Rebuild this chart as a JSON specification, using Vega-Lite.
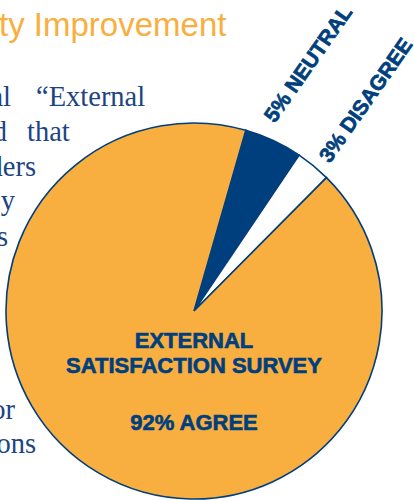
{
  "$schema": "https://vega.github.io/schema/vega-lite/v6.json",
  "width": 414,
  "height": 500,
  "autosize": "none",
  "padding": 0,
  "background": "white",
  "config": {"view": {"stroke": null}},
  "datasets": {
    "survey": [
      {"category": "Neutral", "percent": 5, "label": "5% NEUTRAL"},
      {"category": "Disagree", "percent": 3, "label": "3% DISAGREE"},
      {"category": "Agree", "percent": 92, "label": ""}
    ],
    "one": [{}]
  },
  "layer": [
    {
      "data": {"name": "survey"},
      "mark": {"type": "arc", "outerRadius": 188, "stroke": "#003f7d", "strokeWidth": 1.6},
      "encoding": {
        "x": {"datum": 194, "type": "quantitative", "scale": {"domain": [0, 414], "nice": false}, "axis": null},
        "y": {"datum": 311, "type": "quantitative", "scale": {"domain": [0, 500], "reverse": true, "nice": false}, "axis": null},
        "theta": {"field": "percent", "type": "quantitative", "stack": true, "scale": {"domain": [0, 100], "range": [0.2793, 6.5625], "nice": false}},
        "order": {"field": "category", "sort": "descending"},
        "color": {"field": "category", "type": "nominal", "scale": {"domain": ["Agree", "Neutral", "Disagree"], "range": ["#f9ae40", "#003f7d", "#ffffff"]}, "legend": null}
      }
    },
    {
      "data": {"name": "survey"},
      "mark": {"type": "text", "radius": 272, "angle": -55, "align": "center", "baseline": "middle", "font": "Liberation Sans", "fontWeight": "bold", "fontSize": 21, "fill": "#003f7d", "stroke": "#003f7d", "strokeWidth": 0.7},
      "encoding": {
        "x": {"datum": 194, "type": "quantitative", "scale": {"domain": [0, 414], "nice": false}, "axis": null},
        "y": {"datum": 311, "type": "quantitative", "scale": {"domain": [0, 500], "reverse": true, "nice": false}, "axis": null},
        "theta": {"field": "percent", "type": "quantitative", "stack": true, "scale": {"domain": [0, 100], "range": [0.2793, 6.5625], "nice": false}},
        "order": {"field": "category", "sort": "descending"},
        "text": {"field": "label"}
      }
    },
    {
      "data": {"name": "one"},
      "mark": {"type": "text", "align": "center", "baseline": "alphabetic", "font": "Liberation Sans", "fontWeight": "bold", "fontSize": 22, "fill": "#003f7d", "stroke": "#003f7d", "strokeWidth": 0.6, "lineHeight": 25},
      "encoding": {
        "x": {"datum": 194, "type": "quantitative", "scale": {"domain": [0, 414], "nice": false}, "axis": null},
        "y": {"datum": 348, "type": "quantitative", "scale": {"domain": [0, 500], "reverse": true, "nice": false}, "axis": null},
        "text": {"value": ["EXTERNAL", "SATISFACTION SURVEY"]}
      }
    },
    {
      "data": {"name": "one"},
      "mark": {"type": "text", "align": "center", "baseline": "alphabetic", "font": "Liberation Sans", "fontWeight": "bold", "fontSize": 22, "fill": "#003f7d", "stroke": "#003f7d", "strokeWidth": 0.6},
      "encoding": {
        "x": {"datum": 194, "type": "quantitative", "scale": {"domain": [0, 414], "nice": false}, "axis": null},
        "y": {"datum": 430, "type": "quantitative", "scale": {"domain": [0, 500], "reverse": true, "nice": false}, "axis": null},
        "text": {"value": "92% AGREE"}
      }
    },
    {
      "data": {"name": "one"},
      "mark": {"type": "text", "align": "left", "baseline": "alphabetic", "font": "Liberation Sans", "fontSize": 33, "fill": "#f9ae40"},
      "encoding": {
        "x": {"datum": -1, "type": "quantitative", "scale": {"domain": [0, 414], "nice": false}, "axis": null},
        "y": {"datum": 36, "type": "quantitative", "scale": {"domain": [0, 500], "reverse": true, "nice": false}, "axis": null},
        "text": {"value": "ty Improvement"}
      }
    },
    {
      "data": {"name": "one"},
      "mark": {"type": "text", "align": "right", "baseline": "alphabetic", "font": "Liberation Serif", "fontSize": 28.5, "fill": "#1d4483"},
      "encoding": {
        "x": {"datum": 11, "type": "quantitative", "scale": {"domain": [0, 414], "nice": false}, "axis": null},
        "y": {"datum": 106, "type": "quantitative", "scale": {"domain": [0, 500], "reverse": true, "nice": false}, "axis": null},
        "text": {"value": "al"}
      }
    },
    {
      "data": {"name": "one"},
      "mark": {"type": "text", "align": "left", "baseline": "alphabetic", "font": "Liberation Serif", "fontSize": 28.5, "fill": "#1d4483"},
      "encoding": {
        "x": {"datum": 36, "type": "quantitative", "scale": {"domain": [0, 414], "nice": false}, "axis": null},
        "y": {"datum": 106, "type": "quantitative", "scale": {"domain": [0, 500], "reverse": true, "nice": false}, "axis": null},
        "text": {"value": "“External"}
      }
    },
    {
      "data": {"name": "one"},
      "mark": {"type": "text", "align": "right", "baseline": "alphabetic", "font": "Liberation Serif", "fontSize": 28.5, "fill": "#1d4483"},
      "encoding": {
        "x": {"datum": 7, "type": "quantitative", "scale": {"domain": [0, 414], "nice": false}, "axis": null},
        "y": {"datum": 141, "type": "quantitative", "scale": {"domain": [0, 500], "reverse": true, "nice": false}, "axis": null},
        "text": {"value": "d"}
      }
    },
    {
      "data": {"name": "one"},
      "mark": {"type": "text", "align": "left", "baseline": "alphabetic", "font": "Liberation Serif", "fontSize": 28.5, "fill": "#1d4483"},
      "encoding": {
        "x": {"datum": 27, "type": "quantitative", "scale": {"domain": [0, 414], "nice": false}, "axis": null},
        "y": {"datum": 141, "type": "quantitative", "scale": {"domain": [0, 500], "reverse": true, "nice": false}, "axis": null},
        "text": {"value": "that"}
      }
    },
    {
      "data": {"name": "one"},
      "mark": {"type": "text", "align": "right", "baseline": "alphabetic", "font": "Liberation Serif", "fontSize": 28.5, "fill": "#1d4483"},
      "encoding": {
        "x": {"datum": 36, "type": "quantitative", "scale": {"domain": [0, 414], "nice": false}, "axis": null},
        "y": {"datum": 176, "type": "quantitative", "scale": {"domain": [0, 500], "reverse": true, "nice": false}, "axis": null},
        "text": {"value": "ders"}
      }
    },
    {
      "data": {"name": "one"},
      "mark": {"type": "text", "align": "right", "baseline": "alphabetic", "font": "Liberation Serif", "fontSize": 28.5, "fill": "#1d4483"},
      "encoding": {
        "x": {"datum": 15, "type": "quantitative", "scale": {"domain": [0, 414], "nice": false}, "axis": null},
        "y": {"datum": 210, "type": "quantitative", "scale": {"domain": [0, 500], "reverse": true, "nice": false}, "axis": null},
        "text": {"value": "ey"}
      }
    },
    {
      "data": {"name": "one"},
      "mark": {"type": "text", "align": "right", "baseline": "alphabetic", "font": "Liberation Serif", "fontSize": 28.5, "fill": "#1d4483"},
      "encoding": {
        "x": {"datum": 8, "type": "quantitative", "scale": {"domain": [0, 414], "nice": false}, "axis": null},
        "y": {"datum": 246, "type": "quantitative", "scale": {"domain": [0, 500], "reverse": true, "nice": false}, "axis": null},
        "text": {"value": "s"}
      }
    },
    {
      "data": {"name": "one"},
      "mark": {"type": "text", "align": "right", "baseline": "alphabetic", "font": "Liberation Serif", "fontSize": 28.5, "fill": "#1d4483"},
      "encoding": {
        "x": {"datum": 15, "type": "quantitative", "scale": {"domain": [0, 414], "nice": false}, "axis": null},
        "y": {"datum": 419, "type": "quantitative", "scale": {"domain": [0, 500], "reverse": true, "nice": false}, "axis": null},
        "text": {"value": "or"}
      }
    },
    {
      "data": {"name": "one"},
      "mark": {"type": "text", "align": "right", "baseline": "alphabetic", "font": "Liberation Serif", "fontSize": 28.5, "fill": "#1d4483"},
      "encoding": {
        "x": {"datum": 36, "type": "quantitative", "scale": {"domain": [0, 414], "nice": false}, "axis": null},
        "y": {"datum": 453, "type": "quantitative", "scale": {"domain": [0, 500], "reverse": true, "nice": false}, "axis": null},
        "text": {"value": "ons"}
      }
    }
  ]
}
